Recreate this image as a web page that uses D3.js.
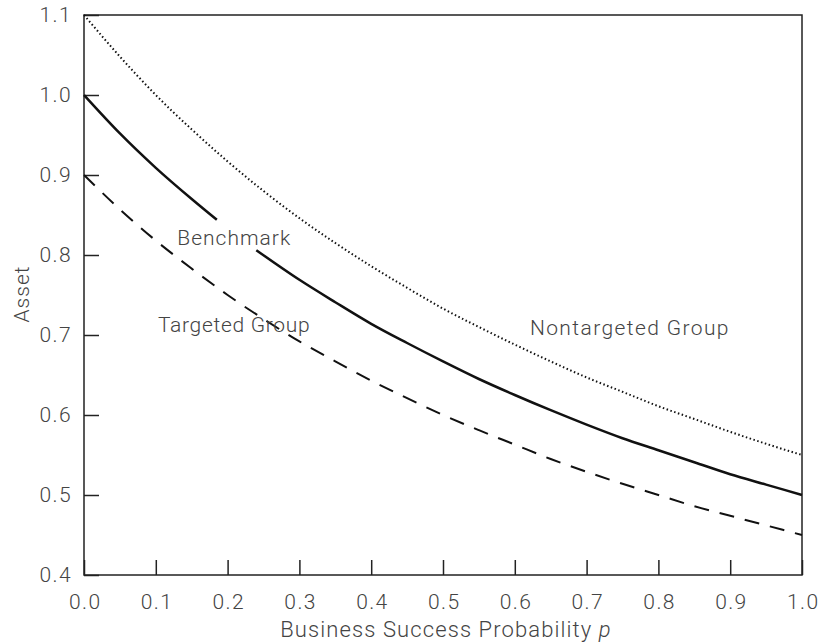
<!DOCTYPE html>
<html>
<head>
<meta charset="utf-8">
<script src="https://cdn.jsdelivr.net/npm/d3@7"></script>
<style>
  body { margin: 0; background: #fff; }
  text { font-family: Roboto, "Liberation Sans", sans-serif; font-weight: 300; fill: #444; }
</style>
</head>
<body>
<div id="chart"></div>
<script>
// values
var pGrid = [0, 0.05, 0.1, 0.15, 0.2, 0.25, 0.3, 0.35, 0.4, 0.45, 0.5, 0.55, 0.6, 0.65, 0.7, 0.75, 0.8, 0.85, 0.9, 0.95, 1.0];
var nontargeted = [1.100, 1.048, 1.000, 0.957, 0.917, 0.880, 0.846, 0.815, 0.786, 0.759, 0.733, 0.710, 0.688, 0.667, 0.647, 0.629, 0.611, 0.595, 0.579, 0.564, 0.550];
var targeted = [0.900, 0.857, 0.818, 0.783, 0.750, 0.720, 0.692, 0.667, 0.643, 0.621, 0.600, 0.581, 0.563, 0.545, 0.529, 0.514, 0.500, 0.486, 0.474, 0.462, 0.450];

// benchmark is broken where its label sits
var benchP1 = [0, 0.05, 0.1, 0.15, 0.185];
var bench1 = [1.000, 0.952, 0.909, 0.870, 0.844];
var benchP2 = [0.24, 0.3, 0.35, 0.4, 0.45, 0.5, 0.55, 0.6, 0.65, 0.7, 0.75, 0.8, 0.85, 0.9, 0.95, 1.0];
var bench2 = [0.806, 0.769, 0.741, 0.714, 0.690, 0.667, 0.645, 0.625, 0.606, 0.588, 0.571, 0.556, 0.541, 0.526, 0.513, 0.500];

var xTicks = [0, 0.1, 0.2, 0.3, 0.4, 0.5, 0.6, 0.7, 0.8, 0.9, 1.0];
var yTicks = [0.4, 0.5, 0.6, 0.7, 0.8, 0.9, 1.0, 1.1];

var margin = {top: 15, right: 17, bottom: 68, left: 84},
    width = 819 - margin.left - margin.right,
    height = 643 - margin.top - margin.bottom;

var x = d3.scaleLinear().domain([0, 1]).range([0, width]);
var y = d3.scaleLinear().domain([0.4, 1.1]).range([height, 0]);

var svg = d3.select("#chart")
    .append("svg")
    .attr("width", 819)
    .attr("height", 643)
    .append("g")
    .attr("transform", "translate(" + margin.left + "," + margin.top + ")");

function zip(ps, vs) {
  return ps.map(function(p, i) { return [p, vs[i]]; });
}

var line = d3.line()
    .x(function(d) { return x(d[0]); })
    .y(function(d) { return y(d[1]); })
    .curve(d3.curveMonotoneX);

// axes, ticks point inward
var xAxis = d3.axisBottom(x).tickValues(xTicks).tickFormat(d3.format(".1f"))
    .tickSizeInner(-15).tickSizeOuter(0).tickPadding(19);
var yAxis = d3.axisLeft(y).tickValues(yTicks).tickFormat(d3.format(".1f"))
    .tickSizeInner(-15).tickSizeOuter(0).tickPadding(12);

var gx = svg.append("g")
    .attr("transform", "translate(0," + height + ")")
    .call(xAxis);
var gy = svg.append("g").call(yAxis);

[gx, gy].forEach(function(g) {
  g.select(".domain").remove();
  g.selectAll("line").attr("stroke", "#222").attr("stroke-width", 1.5);
  g.selectAll("text")
    .style("font-size", "21px")
    .style("letter-spacing", "1.4px")
    .attr("fill", "#444");
});
gx.selectAll("text").attr("dx", "0.7px");

// frame
svg.append("rect")
    .attr("width", width)
    .attr("height", height)
    .attr("fill", "none")
    .attr("stroke", "#222")
    .attr("stroke-width", 1.5);

// curves
svg.append("path")
    .datum(zip(pGrid, nontargeted))
    .attr("d", line)
    .attr("fill", "none")
    .attr("stroke", "#111")
    .attr("stroke-width", 2)
    .attr("stroke-dasharray", "1.5,2.5");

svg.append("path")
    .datum(zip(pGrid, targeted))
    .attr("d", line)
    .attr("fill", "none")
    .attr("stroke", "#111")
    .attr("stroke-width", 2)
    .attr("stroke-dasharray", "15,11");

[zip(benchP1, bench1), zip(benchP2, bench2)].forEach(function(seg) {
  svg.append("path")
      .datum(seg)
      .attr("d", line)
      .attr("fill", "none")
      .attr("stroke", "#111")
      .attr("stroke-width", 2.5);
});

// curve labels
var labels = [
  {text: "Benchmark", p: 0.13, v: 0.822, ls: 1.0},
  {text: "Nontargeted Group", p: 0.621, v: 0.709, ls: 1.4},
  {text: "Targeted Group", p: 0.103, v: 0.7125, ls: 0.7}
];
svg.selectAll(".lbl")
    .data(labels)
    .enter().append("text")
    .attr("class", "lbl")
    .attr("x", function(d) { return x(d.p); })
    .attr("y", function(d) { return y(d.v); })
    .attr("dy", "0.35em")
    .style("font-size", "21px")
    .style("letter-spacing", function(d) { return d.ls + "px"; })
    .text(function(d) { return d.text; });

// axis titles
var xt = svg.append("text")
    .attr("x", width / 2 + 3)
    .attr("y", height + 62)
    .style("text-anchor", "middle")
    .style("font-size", "22px")
    .style("letter-spacing", "1.1px");
xt.append("tspan").text("Business Success Probability ");
xt.append("tspan").style("font-style", "italic").text("p");

svg.append("text")
    .attr("transform", "rotate(-90)")
    .attr("x", -height / 2 + 1)
    .attr("y", -55)
    .style("text-anchor", "middle")
    .style("font-size", "21px")
    .style("letter-spacing", "1px")
    .text("Asset");
</script>
</body>
</html>
